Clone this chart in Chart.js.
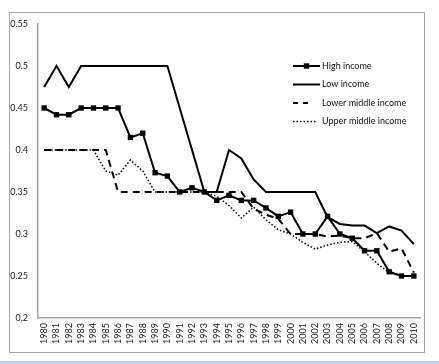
<!DOCTYPE html>
<html>
<head>
<meta charset="utf-8">
<script src="https://cdn.jsdelivr.net/npm/chart.js@4.4.0/dist/chart.umd.min.js"></script>
<style>
  html, body { margin: 0; padding: 0; background: #fff; }
  #wrap { position: relative; width: 439px; height: 364px; overflow: hidden; }
  #frame { position: absolute; left: 9px; top: 12px; width: 416px; height: 341px; border: 1.5px solid #a8a8a8; box-sizing: border-box; }
  #band { position: absolute; left: 0; top: 361px; width: 439px; height: 3px; background: #b7d3f2; }
  canvas { position: absolute; left: 0; top: 0; }
</style>
</head>
<body>
<div id="wrap">
  <div id="frame"></div>
  <div id="band"></div>
  <canvas id="c" width="439" height="364"></canvas>
</div>
<script>
const years = ['1980','1981','1982','1983','1984','1985','1986','1987','1988','1989','1990','1991','1992','1993','1994','1995','1996','1997','1998','1999','2000','2001','2002','2003','2004','2005','2006','2007','2008','2009','2010'];
const seriesNames = ['High income', 'Low income', 'Lower middle income', 'Upper middle income'];
const highIncome = [0.45,0.442,0.442,0.45,0.45,0.45,0.45,0.415,0.42,0.373,0.369,0.35,0.355,0.35,0.34,0.346,0.34,0.34,0.331,0.321,0.326,0.30,0.30,0.321,0.30,0.295,0.28,0.28,0.255,0.25,0.25];
const lowIncome = [0.475,0.5,0.475,0.5,0.5,0.5,0.5,0.5,0.5,0.5,0.5,0.45,0.4,0.35,0.35,0.4,0.39,0.365,0.35,0.35,0.35,0.35,0.35,0.32,0.312,0.31,0.31,0.301,0.309,0.304,0.288];
const lowerMiddle = [0.4,0.4,0.4,0.4,0.4,0.4,0.35,0.35,0.35,0.35,0.35,0.35,0.35,0.35,0.35,0.35,0.35,0.33,0.323,0.318,0.30,0.30,0.30,0.297,0.298,0.295,0.295,0.301,0.279,0.283,0.254];
const upperMiddle = [0.4,0.4,0.4,0.4,0.4,0.375,0.37,0.388,0.375,0.35,0.35,0.35,0.35,0.35,0.345,0.334,0.319,0.332,0.317,0.305,0.30,0.29,0.282,0.287,0.29,0.291,0.279,0.265,0.254,0.25,0.25];
const yTicks = [0.2, 0.25, 0.3, 0.35, 0.4, 0.45, 0.5, 0.55];

const FONT = 'Lato, "Liberation Sans", sans-serif';

const legendPlugin = {
  id: 'customLegend',
  afterDraw(chart) {
    const ctx = chart.ctx;
    const x0 = 293, x1 = 320, tx = 322;
    const ys = [66, 84.5, 103, 121.5];
    ctx.save();
    ctx.strokeStyle = '#000';
    ctx.fillStyle = '#000';
    ctx.lineCap = 'butt';
    // High income
    ctx.lineWidth = 2; ctx.setLineDash([]);
    ctx.beginPath(); ctx.moveTo(x0, ys[0]); ctx.lineTo(x1, ys[0]); ctx.stroke();
    ctx.fillRect(306.5 - 2.7, ys[0] - 2.7, 5.4, 5.4);
    // Low income
    ctx.beginPath(); ctx.moveTo(x0, ys[1]); ctx.lineTo(x1, ys[1]); ctx.stroke();
    // Lower middle
    ctx.setLineDash([5, 5]);
    ctx.beginPath(); ctx.moveTo(x0, ys[2]); ctx.lineTo(308, ys[2]); ctx.stroke();
    // Upper middle
    ctx.lineWidth = 1.5; ctx.setLineDash([1.5, 2]);
    ctx.beginPath(); ctx.moveTo(x0, ys[3]); ctx.lineTo(317, ys[3]); ctx.stroke();
    ctx.setLineDash([]);
    ctx.font = '9px ' + FONT;
    ctx.textAlign = 'left';
    ctx.textBaseline = 'middle';
    ctx.fillStyle = '#111';
    seriesNames.forEach((n, i) => ctx.fillText(n, tx, ys[i]));
    ctx.restore();
  }
};

new Chart(document.getElementById('c'), {
  type: 'line',
  data: {
    labels: years,
    datasets: [
      { label: seriesNames[0], data: highIncome, borderColor: '#000', backgroundColor: '#000', borderWidth: 2,
        pointStyle: 'rect', pointRadius: 3.8, pointBackgroundColor: '#000', pointBorderWidth: 0, tension: 0, order: 0 },
      { label: seriesNames[1], data: lowIncome, borderColor: '#000', borderWidth: 2, pointRadius: 0, tension: 0, order: 1 },
      { label: seriesNames[2], data: lowerMiddle, borderColor: '#000', borderWidth: 2, borderDash: [7, 5], pointRadius: 0, tension: 0, order: 2 },
      { label: seriesNames[3], data: upperMiddle, borderColor: '#000', borderWidth: 1.5, borderDash: [1.5, 2], pointRadius: 0, tension: 0, order: 3 }
    ]
  },
  options: {
    responsive: false,
    animation: false,
    devicePixelRatio: 1,
    layout: { padding: { left: 0, right: 19, top: 24, bottom: 16 } },
    plugins: { legend: { display: false }, tooltip: { enabled: false } },
    scales: {
      x: {
        offset: true,
        grid: { display: false, drawTicks: false },
        border: { display: true, color: '#a6a6a6', width: 1.5 },
        ticks: { color: '#222', font: { family: FONT, size: 9 }, minRotation: 90, maxRotation: 90, autoSkip: false, padding: 5 },
        afterFit(s) { s.height = 30; }
      },
      y: {
        min: 0.2, max: 0.55,
        grid: { display: false, drawTicks: false },
        border: { display: true, color: '#a6a6a6', width: 1.5 },
        afterBuildTicks(s) { s.ticks = yTicks.map(v => ({ value: v })); },
        ticks: { color: '#222', font: { family: FONT, size: 9 }, padding: 10, callback: v => String(v) },
        afterFit(s) { s.width = 38; }
      }
    }
  },
  plugins: [legendPlugin]
});
</script>
</body>
</html>
